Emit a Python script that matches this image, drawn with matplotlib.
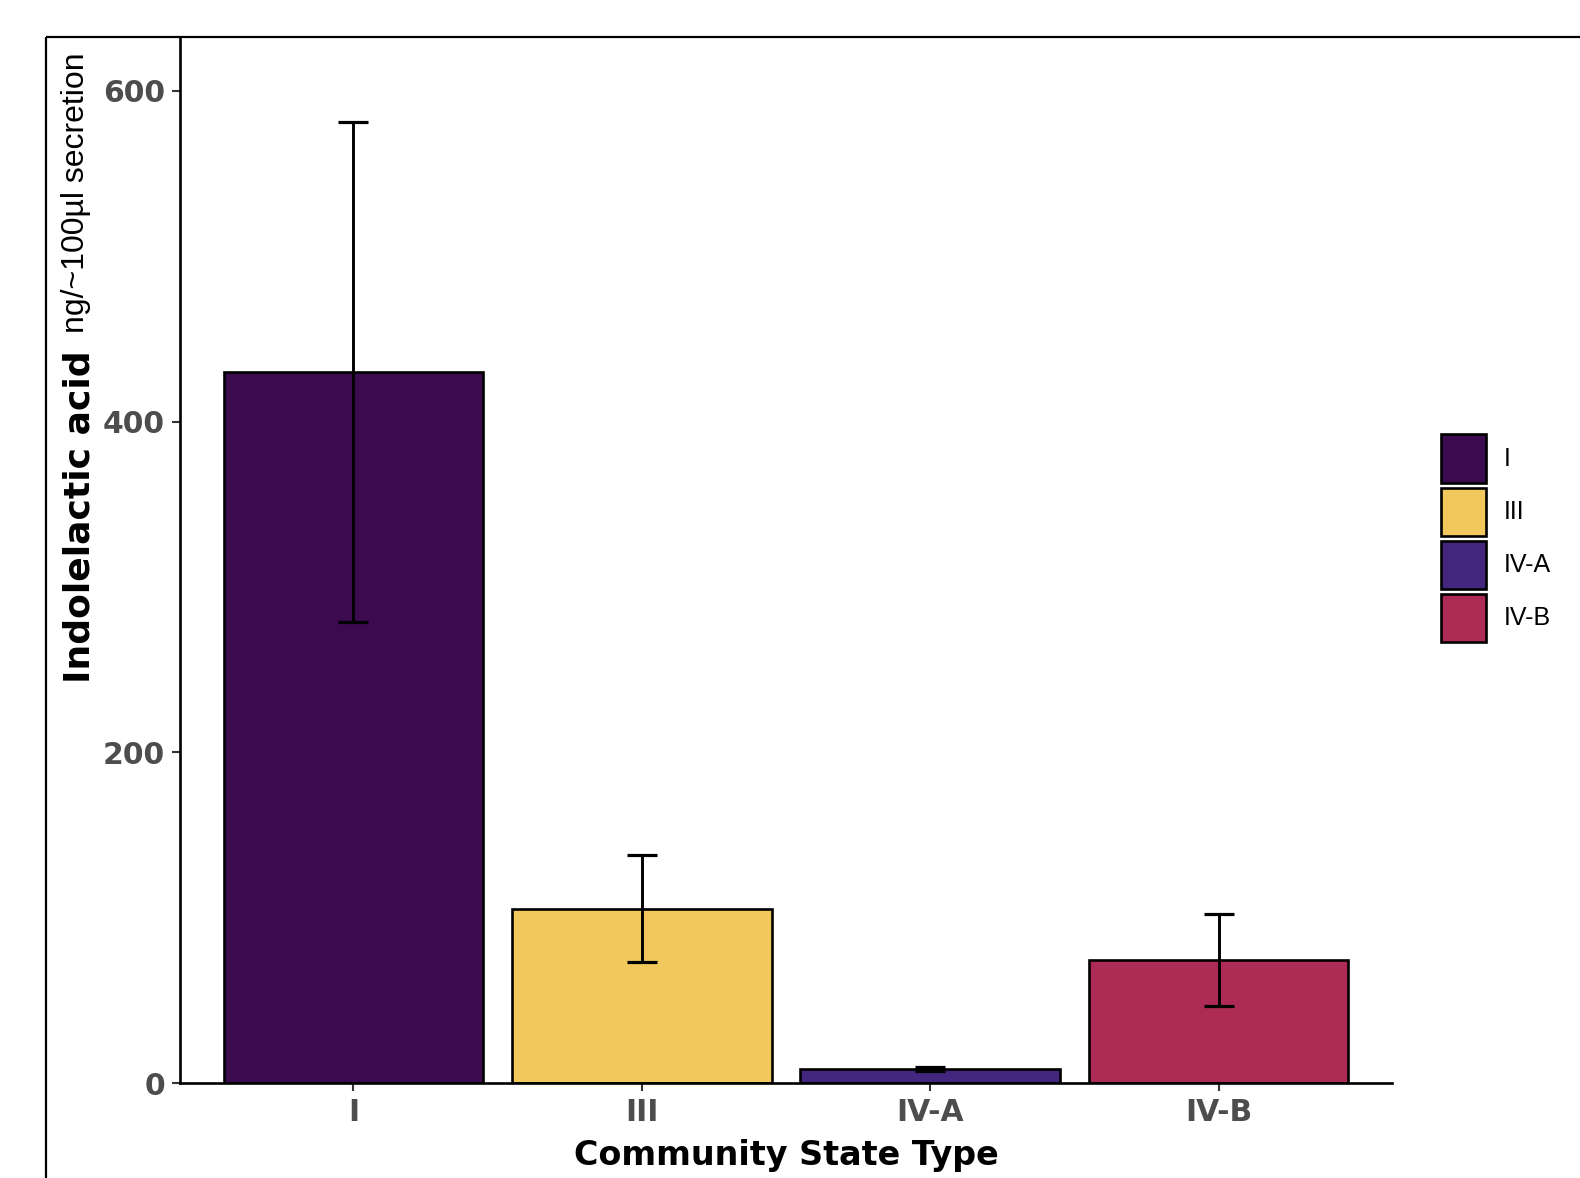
import matplotlib
matplotlib.use("Agg")
import matplotlib.pyplot as plt
from matplotlib.lines import Line2D

# Indolelactic acid concentration by community state type (mean ± error)
categories = ["I", "III", "IV-A", "IV-B"]
means = [430.0, 105.4, 8.5, 74.6]
errors = [151.3, 32.3, 1.4, 27.7]
colors = ["#3C0A4E", "#F1C85B", "#43277F", "#AE2B55"]
y_ticks = [0, 200, 400, 600]

W, H = 1580, 1178
fig = plt.figure(figsize=(W / 100, H / 100), dpi=100)
fig.patch.set_facecolor("white")

# panel border (top and left edges of the enclosing frame)
x0, y0 = 46.4 / W, 1 - 37.3 / H
fig.add_artist(Line2D([x0, 1.0], [y0, y0], transform=fig.transFigure,
                      color="black", lw=1.6, solid_capstyle="butt"))
fig.add_artist(Line2D([x0, x0], [0.0, y0], transform=fig.transFigure,
                      color="black", lw=1.6, solid_capstyle="butt"))

ax = fig.add_axes([180.4 / W, 1 - 1083.2 / H, (1391.6 - 180.4) / W, (1083.2 - 37.3) / H])

xpos = list(range(1, len(categories) + 1))
bars = ax.bar(xpos, means, width=0.9, color=colors, edgecolor="black",
              linewidth=1.9, zorder=2)
ax.errorbar(xpos, means, yerr=errors, fmt="none", ecolor="black",
            elinewidth=2.1, capsize=10.5, capthick=2.3, zorder=3)

ax.set_xlim(0.4, 4.6)
ax.set_ylim(0, 632.3)
ax.set_xticks(xpos)
ax.set_xticklabels(categories)
ax.set_yticks(y_ticks)

for s in ["top", "right"]:
    ax.spines[s].set_visible(False)
for s in ["left", "bottom"]:
    ax.spines[s].set_linewidth(1.9)
    ax.spines[s].set_color("black")

ax.tick_params(axis="both", length=6, width=1.5, color="#333333",
               labelsize=21.5, labelcolor="#4D4D4D", pad=5)
for lab in ax.get_xticklabels() + ax.get_yticklabels():
    lab.set_fontweight("bold")
    lab.set_fontfamily("DejaVu Sans")

ax.set_xlabel("Community State Type", fontsize=24, fontweight="bold",
              color="black", labelpad=8)

# y-axis title: bold compound name followed by the unit in regular type
fig.text(90.0 / W, 1 - 683 / H, "Indolelactic acid", rotation=90,
         rotation_mode="anchor", ha="left", va="baseline",
         fontsize=26, fontweight="bold", family="DejaVu Sans", color="black")
fig.text(84.0 / W, 1 - 333 / H, "ng/~100\u00b5l secretion", rotation=90,
         rotation_mode="anchor", ha="left", va="baseline",
         fontsize=23, family=["Liberation Sans", "DejaVu Sans"], color="black")

leg = ax.legend(handles=list(bars), labels=categories, loc="upper left",
                bbox_to_anchor=(1441 / W, 1 - 434.5 / H),
                bbox_transform=fig.transFigure, frameon=False,
                borderpad=0, borderaxespad=0, handlelength=1.78,
                handleheight=2.58, labelspacing=0.2, handletextpad=0.72,
                prop={"family": "Liberation Sans", "size": 18})

fig.savefig("out.png", dpi=100, facecolor="white")
